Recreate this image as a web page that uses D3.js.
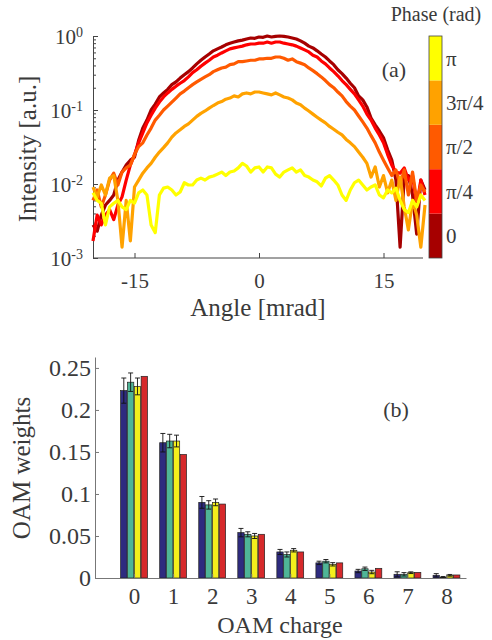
<!DOCTYPE html>
<html>
<head>
<meta charset="utf-8">
<script src="https://cdn.jsdelivr.net/npm/d3@7"></script>
<style>
  body { margin: 0; background: #fff; }
</style>
</head>
<body>
<svg id="drawing_region"></svg>
<script>
// ---- panel (a): far-field intensity vs angle, one curve per phase ----
const angle = [-20,-19.5,-19,-18.5,-18,-17.5,-17,-16.5,-16,-15.5,-15,-14.5,-14,-13.5,-13,-12.5,-12,-11.5,-11,-10.5,
  -10,-9.5,-9,-8.5,-8,-7.5,-7,-6.5,-6,-5.5,-5,-4.5,-4,-3.5,-3,-2.5,-2,-1.5,-1,-0.5,
  0,0.5,1,1.5,2,2.5,3,3.5,4,4.5,5,5.5,6,6.5,7,7.5,8,8.5,9,9.5,
  10,10.5,11,11.5,12,12.5,13,13.5,14,14.5,15,15.5,16,16.5,17,17.5,18,18.5,19,19.5,20];

const intensity_0 = [0.0028,0.0023,0.0038,0.0052,0.0060,0.0071,0.0113,0.0145,0.018,0.021,0.023,0.039,0.057,0.073,0.10,0.12,0.15,0.17,0.19,0.22,
  0.24,0.27,0.30,0.33,0.37,0.42,0.47,0.52,0.57,0.63,0.67,0.71,0.76,0.80,0.83,0.86,0.88,0.91,0.94,0.93,
  0.97,0.96,1.0,0.97,0.99,1.0,0.99,0.97,0.94,0.91,0.86,0.80,0.73,0.69,0.63,0.57,0.52,0.46,0.41,0.35,
  0.31,0.27,0.23,0.20,0.155,0.137,0.11,0.078,0.063,0.052,0.042,0.029,0.021,0.0113,0.0014,0.0124,0.013,0.0071,0.0021,0.0113,0.0083];

const intensity_1 = [0.0017,0.0038,0.0028,0.0038,0.0045,0.0033,0.0052,0.0067,0.0113,0.018,0.025,0.036,0.049,0.067,0.085,0.106,0.128,0.15,0.17,0.19,
  0.21,0.23,0.25,0.28,0.32,0.35,0.39,0.43,0.47,0.52,0.55,0.59,0.63,0.67,0.69,0.71,0.73,0.76,0.78,0.78,
  0.80,0.80,0.83,0.80,0.83,0.83,0.80,0.78,0.76,0.73,0.69,0.65,0.61,0.55,0.52,0.46,0.42,0.37,0.33,0.29,
  0.25,0.22,0.19,0.165,0.137,0.113,0.088,0.073,0.057,0.046,0.036,0.025,0.018,0.0145,0.014,0.0165,0.0113,0.013,0.0052,0.0113,0.0071];

const intensity_2 = [0.0060,0.0083,0.0049,0.0071,0.0113,0.014,0.0097,0.0145,0.0165,0.018,0.025,0.032,0.036,0.046,0.057,0.073,0.085,0.10,0.113,0.128,
  0.145,0.165,0.18,0.20,0.22,0.24,0.26,0.28,0.30,0.33,0.35,0.37,0.38,0.41,0.42,0.45,0.45,0.46,0.47,0.47,
  0.49,0.49,0.50,0.50,0.52,0.52,0.50,0.47,0.49,0.45,0.43,0.41,0.37,0.34,0.31,0.28,0.25,0.22,0.20,0.175,
  0.155,0.13,0.113,0.10,0.083,0.069,0.057,0.045,0.036,0.027,0.021,0.0165,0.013,0.0155,0.0097,0.0155,0.0071,0.0145,0.0060,0.0097,0.0078];

const intensity_3 = [0.0091,0.0067,0.0097,0.0071,0.012,0.013,0.0060,0.0014,0.0060,0.0017,0.0091,0.0113,0.014,0.0165,0.019,0.023,0.027,0.031,0.036,0.043,
  0.049,0.054,0.060,0.065,0.073,0.082,0.090,0.097,0.106,0.115,0.124,0.13,0.14,0.145,0.155,0.15,0.165,0.17,0.165,0.175,
  0.175,0.17,0.165,0.16,0.17,0.16,0.15,0.145,0.137,0.124,0.118,0.106,0.097,0.088,0.080,0.073,0.067,0.060,0.055,0.050,
  0.046,0.040,0.036,0.032,0.027,0.023,0.019,0.0124,0.017,0.0091,0.013,0.0076,0.0113,0.0060,0.0124,0.0049,0.0024,0.0060,0.0038,0.0014,0.0052];

const intensity_4 = [0.0076,0.0060,0.0055,0.0028,0.0049,0.0055,0.0060,0.0049,0.0045,0.0060,0.0055,0.0076,0.0083,0.0071,0.0028,0.0022,0.0071,0.0088,0.0091,0.0083,
  0.0071,0.0078,0.0104,0.0097,0.0097,0.0113,0.012,0.0113,0.0124,0.0128,0.0136,0.0145,0.013,0.0145,0.015,0.0165,0.019,0.0175,0.0145,0.0165,
  0.017,0.0145,0.017,0.0165,0.0136,0.0124,0.0145,0.0155,0.0165,0.0145,0.0155,0.013,0.0124,0.0113,0.0107,0.0094,0.012,0.013,0.0113,0.0097,
  0.0071,0.0060,0.0083,0.0104,0.0113,0.0097,0.0083,0.0091,0.0097,0.0071,0.0065,0.0083,0.0076,0.0088,0.0060,0.0045,0.0041,0.0060,0.0049,0.0071,0.0060];

const phase_labels = ["0", "\u03c0/4", "\u03c0/2", "3\u03c0/4", "\u03c0"];
const angle_ticks = [-15, 0, 15];
const intensity_ticks = [1e-3, 1e-2, 1e-1, 1];
const intensity_exponents = ["-3", "-2", "-1", "0"];

// ---- panel (b): OAM spectrum ----
const oam_charge = [0, 1, 2, 3, 4, 5, 6, 7, 8];
const weights_blue   = [0.223, 0.161, 0.090, 0.054, 0.031, 0.018, 0.0083, 0.0044, 0.0032];
const weights_green  = [0.233, 0.163, 0.087, 0.052, 0.028, 0.020, 0.011, 0.0044, 0.0008];
const weights_yellow = [0.228, 0.163, 0.090, 0.050, 0.033, 0.0163, 0.0071, 0.0063, 0.0032];
const weights_red    = [0.240, 0.147, 0.088, 0.052, 0.031, 0.018, 0.0115, 0.0067, 0.0036];
const error_blue   = [0.015, 0.011, 0.007, 0.005, 0.003, 0.002, 0.002, 0.003, 0.002];
const error_green  = [0.011, 0.008, 0.005, 0.003, 0.003, 0.002, 0.002, 0.002, 0.001];
const error_yellow = [0.010, 0.007, 0.004, 0.003, 0.002, 0.002, 0.002, 0.001, 0.001];
const error_red    = [0, 0, 0, 0, 0, 0, 0, 0, 0];
const weight_ticks = [0, 0.05, 0.1, 0.15, 0.2, 0.25];

const FONT = '"Liberation Serif", "DejaVu Serif", serif';

const svg = d3.select('#drawing_region')
    .attr('width', 492)
    .attr('height', 640)
    .style('font-family', FONT);

class IntensityPlot {

    constructor( config ) {
        this.config = config;
        this.series = [intensity_0, intensity_1, intensity_2, intensity_3, intensity_4];
        this.init();
    }

    init() {
        let self = this;
        const c = self.config;

        self.xscale = d3.scaleLinear()
            .domain( [-20, 20] )
            .range( [c.left, c.right] );

        self.yscale = d3.scaleLog()
            .domain( [1e-3, 1] )
            .range( [c.bottom, c.top] );

        self.chart = svg.append('g');
    }

    render() {
        let self = this;
        const c = self.config;

        // minor log ticks
        const minor = self.yscale.ticks().filter( d => intensity_ticks.indexOf(d) < 0 );
        self.chart.append('g')
            .attr('transform', `translate(${c.left}, 0)`)
            .call( d3.axisLeft(self.yscale).tickValues(minor).tickSizeInner(-3).tickSizeOuter(0).tickFormat('') )
            .call( g => g.select('.domain').remove() );

        const yaxis_group = self.chart.append('g')
            .attr('transform', `translate(${c.left}, 0)`)
            .call( d3.axisLeft(self.yscale).tickValues(intensity_ticks).tickSizeInner(-5).tickSizeOuter(0).tickFormat('') );
        yaxis_group.selectAll('.tick').select('text').remove();
        const lab = yaxis_group.selectAll('.tick').append('text')
            .attr('x', -10)
            .attr('dy', '0.35em')
            .attr('text-anchor', 'end')
            .style('font-size', '21px');
        lab.append('tspan').text('10');
        lab.append('tspan')
            .attr('dy', '-0.5em')
            .style('font-size', '14px')
            .text( (d, i) => intensity_exponents[i] );

        const xaxis_group = self.chart.append('g')
            .attr('transform', `translate(0, ${c.bottom})`)
            .call( d3.axisBottom(self.xscale).tickValues(angle_ticks).tickSizeInner(-5).tickSizeOuter(0)
                .tickPadding(15).tickFormat( d => String(d) ) );
        xaxis_group.select('.domain').attr('d', `M${c.left},0H${c.axis_end}`);
        xaxis_group.selectAll('text').style('font-size', '21px');

        self.chart.selectAll('.domain, .tick line').attr('stroke', '#444');

        const line = d3.line()
            .x( (d, i) => self.xscale( angle[i] ) )
            .y( d => self.yscale( d ) );

        self.chart.selectAll('path.curve')
            .data( self.series )
            .enter()
            .append('path')
            .attr('class', 'curve')
            .attr('d', line)
            .attr('fill', 'none')
            .attr('stroke', (d, i) => c.colors[i])
            .attr('stroke-width', 3.2)
            .attr('stroke-linejoin', 'round');

        // colour bar
        const band = d3.scaleBand()
            .domain( d3.range(phase_labels.length) )
            .range( [c.bottom, c.top] );

        const cbar = self.chart.append('g');
        cbar.selectAll('rect')
            .data( phase_labels )
            .enter()
            .append('rect')
            .attr('x', c.cbar_x)
            .attr('y', (d, i) => band(i))
            .attr('width', c.cbar_w)
            .attr('height', band.bandwidth())
            .attr('fill', (d, i) => c.colors[i]);
        cbar.append('rect')
            .attr('x', c.cbar_x).attr('y', c.top)
            .attr('width', c.cbar_w).attr('height', c.bottom - c.top)
            .attr('fill', 'none').attr('stroke', '#444').attr('stroke-width', 0.8);
        cbar.selectAll('text')
            .data( phase_labels )
            .enter()
            .append('text')
            .attr('x', c.cbar_x + c.cbar_w + 4)
            .attr('y', (d, i) => band(i) + band.bandwidth() / 2)
            .attr('dy', '0.35em')
            .style('font-size', '21px')
            .text( d => d );

        svg.append('text')
            .attr('x', 436).attr('y', 21)
            .style('text-anchor', 'middle')
            .style('font-size', '20px')
            .text('Phase (rad)');

        svg.append('text')
            .attr('x', 394).attr('y', 77)
            .style('text-anchor', 'middle')
            .style('font-size', '22px')
            .text('(a)');

        svg.append('text')
            .attr('x', (c.left + c.axis_end) / 2).attr('y', 316)
            .style('text-anchor', 'middle')
            .style('font-size', '25px')
            .text('Angle [mrad]');

        svg.append('text')
            .attr('transform', 'rotate(-90)')
            .attr('x', -149).attr('y', 36)
            .style('text-anchor', 'middle')
            .style('font-size', '25px')
            .text('Intensity [a.u.]');
    }
}

class WeightsPlot {

    constructor( config ) {
        this.config = config;
        this.series = [
            { values: weights_blue, errors: error_blue },
            { values: weights_green, errors: error_green },
            { values: weights_yellow, errors: error_yellow },
            { values: weights_red, errors: error_red },
        ];
        this.init();
    }

    init() {
        let self = this;
        const c = self.config;

        self.xscale = d3.scaleLinear()
            .domain( [-1, 8.5] )
            .range( [c.left, c.right] );

        self.yscale = d3.scaleLinear()
            .domain( [0, 0.263] )
            .range( [c.bottom, c.top] );

        self.chart = svg.append('g');
    }

    render() {
        let self = this;
        const c = self.config;
        const step = 0.175;
        const bw = self.xscale(0.162) - self.xscale(0);

        self.series.forEach( (s, k) => {
            const g = self.chart.append('g');
            g.selectAll('rect')
                .data( s.values )
                .enter()
                .append('rect')
                .attr('x', (d, i) => self.xscale( oam_charge[i] + (k - 1.5) * step ) - bw / 2)
                .attr('y', d => self.yscale(d))
                .attr('width', bw)
                .attr('height', d => self.yscale(0) - self.yscale(d))
                .attr('fill', c.colors[k])
                .attr('stroke', '#222')
                .attr('stroke-width', 0.7);

            const err = g.selectAll('g.err')
                .data( s.values.map( (v, i) => ({ x: oam_charge[i] + (k - 1.5) * step, v: v, e: s.errors[i] }) )
                    .filter( d => d.e > 0 ) )
                .enter()
                .append('g')
                .attr('stroke', '#111')
                .attr('stroke-width', 0.9);
            err.append('line')
                .attr('x1', d => self.xscale(d.x)).attr('x2', d => self.xscale(d.x))
                .attr('y1', d => self.yscale(d.v - d.e)).attr('y2', d => self.yscale(d.v + d.e));
            err.append('line')
                .attr('x1', d => self.xscale(d.x) - 2.5).attr('x2', d => self.xscale(d.x) + 2.5)
                .attr('y1', d => self.yscale(d.v + d.e)).attr('y2', d => self.yscale(d.v + d.e));
            err.append('line')
                .attr('x1', d => self.xscale(d.x) - 2.5).attr('x2', d => self.xscale(d.x) + 2.5)
                .attr('y1', d => self.yscale(d.v - d.e)).attr('y2', d => self.yscale(d.v - d.e));
        });

        const xaxis_group = self.chart.append('g')
            .attr('transform', `translate(0, ${c.bottom})`)
            .call( d3.axisBottom(self.xscale).tickValues(oam_charge).tickSizeInner(-4).tickSizeOuter(0).tickPadding(10) );
        xaxis_group.selectAll('text').style('font-size', '23px');

        const yaxis_group = self.chart.append('g')
            .attr('transform', `translate(${c.left}, 0)`)
            .call( d3.axisLeft(self.yscale).tickValues(weight_ticks).tickSizeInner(-4).tickSizeOuter(0).tickPadding(4)
                .tickFormat( d => String(d) ) );
        yaxis_group.selectAll('text').style('font-size', '24px');

        self.chart.selectAll('.domain, .tick line').attr('stroke', '#777');

        svg.append('text')
            .attr('x', 396).attr('y', 417)
            .style('text-anchor', 'middle')
            .style('font-size', '22px')
            .text('(b)');

        svg.append('text')
            .attr('x', 280).attr('y', 633)
            .style('text-anchor', 'middle')
            .style('font-size', '24px')
            .text('OAM charge');

        svg.append('text')
            .attr('transform', 'rotate(-90)')
            .attr('x', -468).attr('y', 30)
            .style('text-anchor', 'middle')
            .style('font-size', '25px')
            .text('OAM weights');
    }
}

const intensity_plot = new IntensityPlot({
    left: 93, right: 425, axis_end: 423, top: 36, bottom: 258,
    cbar_x: 429, cbar_w: 13,
    colors: ['#a60000', '#ff0000', '#ff5a00', '#ffa200', '#ffff00'],
});
intensity_plot.render();

const weights_plot = new WeightsPlot({
    left: 95, right: 466, top: 357, bottom: 578,
    colors: ['#2e2b7f', '#4fb597', '#f4ef1c', '#d6292b'],
});
weights_plot.render();

// serif text everywhere, axis groups included
svg.selectAll('g').attr('font-family', null);
svg.selectAll('text')
    .style('font-family', FONT)
    .attr('fill', '#3a3a3a');
</script>
</body>
</html>
